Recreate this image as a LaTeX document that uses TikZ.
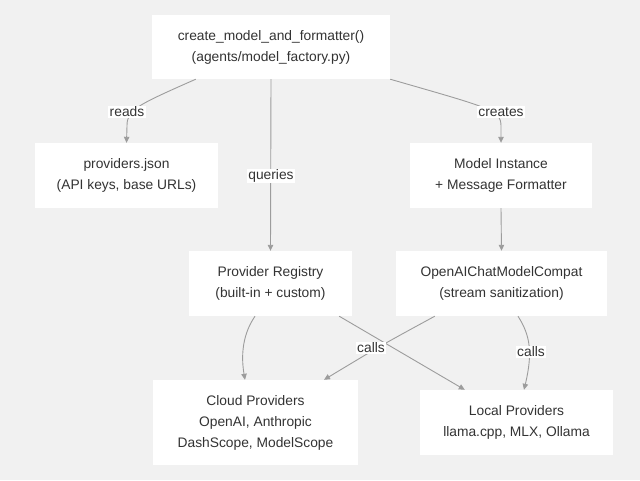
\documentclass[tikz,border=0pt]{standalone}
\usepackage{fontspec}
\setmainfont{Liberation Sans}
\usetikzlibrary{arrows.meta}
\definecolor{bgc}{HTML}{F1F1F1}
\definecolor{txtc}{HTML}{333333}
\definecolor{edgec}{HTML}{9C9C9C}
\tikzset{
  box/.style={draw=none, fill=white, text=txtc, align=center, inner sep=0pt,
    font=\fontsize{13.8}{21}\selectfont},
  lbl/.style={fill=white, text=txtc, inner xsep=1.5pt, inner ysep=1pt,
    font=\fontsize{13.8}{16}\selectfont},
  edge/.style={draw=edgec, line width=0.9pt, -{Triangle[length=6pt,width=5.5pt]}},
  plain/.style={draw=edgec, line width=0.9pt},
}
\begin{document}
\begin{tikzpicture}[x=1pt,y=-1pt]
\useasboundingbox[fill=bgc] (0,0) rectangle (640,480);
% nodes
\node[box, minimum width=238pt, minimum height=64pt] (top) at (271,47)
  {create\_model\_and\_formatter()\\(agents/model\_factory.py)};
\node[box, minimum width=183pt, minimum height=65pt] (pj) at (126.5,175.5)
  {providers.json\\(API keys, base URLs)};
\node[box, minimum width=182pt, minimum height=65pt] (mi) at (501,175.5)
  {Model Instance\\+ Message Formatter};
\node[box, minimum width=163pt, minimum height=65pt] (reg) at (270.5,283.5)
  {Provider Registry\\(built-in + custom)};
\node[box, minimum width=211pt, minimum height=65pt] (oai) at (501.5,283.5)
  {OpenAIChatModelCompat\\(stream sanitization)};
\node[box, minimum width=205pt, minimum height=85pt] (cloud) at (255.5,422.5)
  {Cloud Providers\\OpenAI, Anthropic\\DashScope, ModelScope};
\node[box, minimum width=193pt, minimum height=65pt] (local) at (516.5,422.5)
  {Local Providers\\llama.cpp, MLX, Ollama};
% edges
\draw[edge] ([xshift=44pt]top.south west) .. controls (135,106) and (127,110) .. (127,126) -- (pj.north);
\draw[edge] (top.south) -- (reg.north);
\draw[edge] (top.south east) .. controls (490,108) and (501,110) .. (501,126) -- (mi.north);
\draw[edge] (mi.south) -- (oai.north);
\draw[edge] ([xshift=-15.5pt]reg.south) .. controls (240,338) and (242,362) .. ([xshift=-10.5pt]cloud.north);
\draw[edge] ([xshift=-13pt]reg.south east) -- ([xshift=45pt]local.north west);
\draw[edge] ([xshift=39pt]oai.south west) .. controls (380,346) .. ([xshift=68.5pt]cloud.north);
\draw[edge] ([xshift=16.5pt]oai.south) .. controls (530,335) and (533,352) .. ([xshift=7.5pt]local.north);
% labels
\node[lbl] (lreads) at (127,112) {reads};
\node[lbl] (lqueries) at (271,176) {queries};
\node[lbl] (lcreates) at (501,112) {creates};
\node[lbl] (lcalls1) at (371,348) {calls};
\node[lbl] (lcalls2) at (531,352) {calls};
\end{tikzpicture}
\end{document}
